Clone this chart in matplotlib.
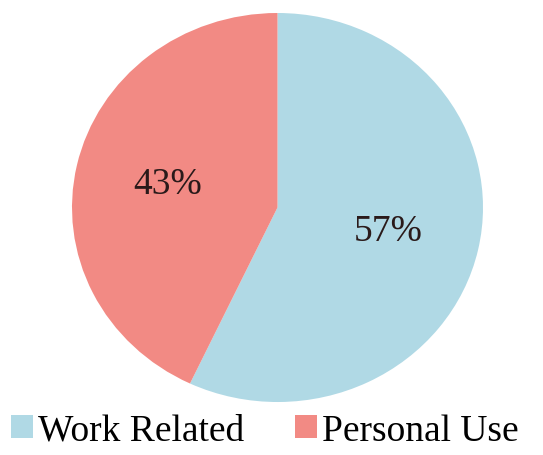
import matplotlib.pyplot as plt
from matplotlib.patches import Patch

labels = ["Work Related", "Personal Use"]
shares = [57, 43]
colors = ["#B0D9E5", "#F28A84"]

plt.rcParams["font.family"] = ["Liberation Serif", "DejaVu Serif"]

fig = plt.figure(figsize=(5.43, 4.56), dpi=100)
# pie is drawn slightly wider than tall
ax = fig.add_axes([0.1326, 0.1162, 0.7569, 0.8531])

wedges, texts, autotexts = ax.pie(
    shares,
    colors=colors,
    startangle=90,
    counterclock=False,
    autopct="%d%%",
    pctdistance=0.55,
    radius=1.0,
    textprops={"fontsize": 27, "color": "#2a1a1a"},
)
ax.set_xlim(-1, 1)
ax.set_ylim(-1, 1)
ax.set_aspect("auto")

handles = [Patch(facecolor=c, edgecolor="none") for c in colors]
fig.legend(
    handles,
    labels,
    loc="lower center",
    bbox_to_anchor=(0.487, -0.058),
    ncol=2,
    frameon=False,
    fontsize=27,
    handlelength=0.6,
    handleheight=0.6,
    handletextpad=0.12,
    columnspacing=1.35,
)

fig.savefig("out.png", dpi=100)
